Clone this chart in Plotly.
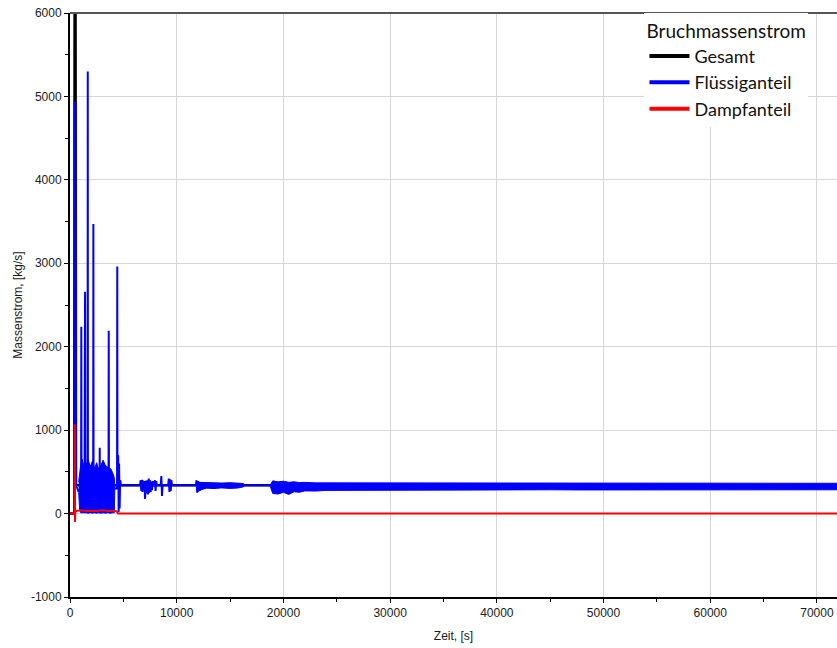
import plotly.graph_objects as go

# ---------------- data ----------------
# Gesamt (total break mass flow), kg/s
t_gesamt = [0, 400, 430, 520, 560, 800, 72000]
v_gesamt = [0, 0, 6200, 6200, 340, 340, 340]

# Flüssiganteil (liquid part) - line points
t_fluessig = [0, 420, 430, 520, 560, 700, 800,
              1040, 1060, 1080,
              1360, 1385, 1410, 1435,
              1650, 1665, 1680,
              2170, 2190, 2210,
              2770, 2785, 2800,
              3610, 3630, 3650,
              4410, 4430, 4450,
              4520, 4560, 4600, 4650, 4700, 4780,
              6560, 6620, 6680, 6740, 6800, 6860, 6920, 6980, 7030,
              7080, 7140, 7200, 7260, 7320, 7380, 7440, 7500, 7560, 7620, 7680, 7740, 7800,
              7900, 7960, 8020, 8080, 8140,
              8500, 8560, 8620, 8680,
              9200, 9260, 9320, 9380, 9440, 9500, 9560,
              11800, 11860, 11920, 11980, 12040, 12100, 12160, 12220, 12280, 12340, 12400,
              16400, 18700, 72000]
v_fluessig = [0, 0, 4920, 4920, 330, 300, 260,
              300, 2240, 300,
              300, 2660, 2660, 300,
              300, 5300, 300,
              300, 3470, 300,
              300, 790, 300,
              300, 2190, 300,
              300, 2960, 300,
              700, 20, 600, 60, 400, 340,
              340, 400, 270, 405, 260, 395, 280, 390, 176,
              340, 395, 240, 400, 230, 420, 250, 400, 260, 380, 280, 390, 340,
              340, 400, 270, 390, 340,
              340, 450, 210, 340,
              340, 420, 260, 410, 270, 400, 340,
              340, 400, 250, 390, 270, 380, 290, 375, 300, 370, 340,
              340, 340, 330]

# Flüssiganteil - dense oscillation bands (lower / upper envelope)
t_band_a = [815, 900, 1000, 1150, 1300, 1500, 1700, 1900, 2100, 2300, 2500, 2650,
            2900, 3100, 3300, 3500, 3800, 4000, 4150, 4200]
hi_band_a = [380, 520, 580, 650, 560, 580, 650, 560, 630, 540, 610, 540,
             580, 640, 580, 560, 540, 490, 430, 300]
lo_band_a = [250, 50, 10, 10, 5, 10, 5, 10, 5, 10, 5, 10,
             5, 10, 5, 10, 5, 10, 10, 250]

t_band_b = [11900, 12400, 12800, 13500, 14200, 15000, 15700, 16250]
hi_band_b = [375, 372, 368, 372, 366, 370, 367, 360]
lo_band_b = [260, 290, 305, 300, 308, 302, 306, 320]

t_band_c = [18750, 19000, 19500, 20000, 20500, 21000, 21500, 22000, 23000, 24000,
            26000, 28000, 30000, 33000, 36000, 39000, 42000, 45000, 48000, 51000,
            54000, 57000, 60000, 63000, 66000, 69000, 72000]
hi_band_c = [340, 392, 380, 388, 375, 380, 372, 374, 368, 368,
             364, 363, 365, 362, 364, 363, 365, 364, 366, 365,
             364, 363, 364, 363, 364, 362, 363]
lo_band_c = [335, 240, 235, 255, 230, 262, 255, 272, 270, 278,
             280, 282, 284, 282, 285, 283, 284, 285, 283, 284,
             285, 283, 284, 285, 283, 284, 285]

# Dampfanteil (steam part)
t_dampf = [0, 420, 440, 465, 500, 560, 1000, 1500, 2000, 2500, 3000, 3500, 4000, 4400, 4500, 72000]
v_dampf = [0, 0, 1070, -100, 30, 30, 40, 30, 35, 30, 40, 30, 35, 25, 0, 0]

x_ticks = [0, 10000, 20000, 30000, 40000, 50000, 60000, 70000]
x_ticklabels = ["0", "10000", "20000", "30000", "40000", "50000", "60000", "70000"]
y_ticks = [-1000, 0, 1000, 2000, 3000, 4000, 5000, 6000]
y_ticklabels = ["-1000", "0", "1000", "2000", "3000", "4000", "5000", "6000"]

series_names = ["Gesamt", "Flüssiganteil", "Dampfanteil"]
series_colors = ["#000000", "#0000ff", "#ff0000"]

# ---------------- figure ----------------
fig = go.Figure()

fig.add_trace(go.Scatter(x=t_gesamt, y=v_gesamt, mode="lines", name=series_names[0],
                         line=dict(color=series_colors[0], width=2.5), showlegend=False))


def add_band(t, lo, hi):
    fig.add_trace(go.Scatter(x=t + t[::-1], y=hi + lo[::-1], mode="lines", fill="toself",
                             fillcolor=series_colors[1], line=dict(color=series_colors[1], width=1),
                             showlegend=False, hoverinfo="skip"))


add_band(t_band_a, lo_band_a, hi_band_a)
add_band(t_band_b, lo_band_b, hi_band_b)
add_band(t_band_c, lo_band_c, hi_band_c)

fig.add_trace(go.Scatter(x=t_fluessig, y=v_fluessig, mode="lines", name=series_names[1],
                         line=dict(color=series_colors[1], width=2), showlegend=False))

fig.add_trace(go.Scatter(x=t_dampf, y=v_dampf, mode="lines", name=series_names[2],
                         line=dict(color=series_colors[2], width=2), showlegend=False))

# legend entries
for nm, col in zip(series_names, series_colors):
    fig.add_trace(go.Scatter(x=[None], y=[None], mode="lines", name=nm,
                             line=dict(color=col, width=4), showlegend=True))

axis_common = dict(showgrid=True, gridcolor="#d6d6d6", gridwidth=1, zeroline=False,
                   showline=True, linecolor="black", linewidth=2,
                   ticks="outside", ticklen=4, tickcolor="black", tickwidth=1,
                   tickfont=dict(family="Liberation Sans, Arial", size=12, color="#1a1a1a"))

fig.update_layout(
    width=837, height=648,
    margin=dict(l=70, r=0, t=13, b=51),
    paper_bgcolor="white", plot_bgcolor="white",
    font=dict(family="Liberation Sans, Arial", size=12, color="#1a1a1a"),
    xaxis=dict(range=[0, 71880], tickmode="array", tickvals=x_ticks, ticktext=x_ticklabels,
               minor=dict(tickvals=[5000, 15000, 25000, 35000, 45000, 55000, 65000],
                          ticks="outside", ticklen=3, tickcolor="black", showgrid=False),
               title=dict(text="Zeit, [s]", font=dict(size=12), standoff=12),
               **axis_common),
    yaxis=dict(range=[-1000, 6000], tickmode="array", tickvals=y_ticks, ticktext=y_ticklabels,
               minor=dict(tickvals=[-500, 500, 1500, 2500, 3500, 4500, 5500],
                          ticks="outside", ticklen=3, tickcolor="black", showgrid=False),
               title=dict(text="Massenstrom, [kg/s]", font=dict(size=12), standoff=6),
               **axis_common),
    legend=dict(title=dict(text="Bruchmassenstrom", font=dict(family="Lato", size=19, color="#111")),
                font=dict(family="Lato", size=18, color="#111"),
                x=0.749, xanchor="left", y=1, yanchor="top", itemwidth=40,
                bgcolor="white", borderwidth=0, tracegroupgap=0),
    shapes=[dict(type="line", xref="paper", yref="paper", x0=0, x1=1, y0=1, y1=1,
                 line=dict(color="#555555", width=2), layer="above")],
    showlegend=True,
)

fig.write_html("out.html")
